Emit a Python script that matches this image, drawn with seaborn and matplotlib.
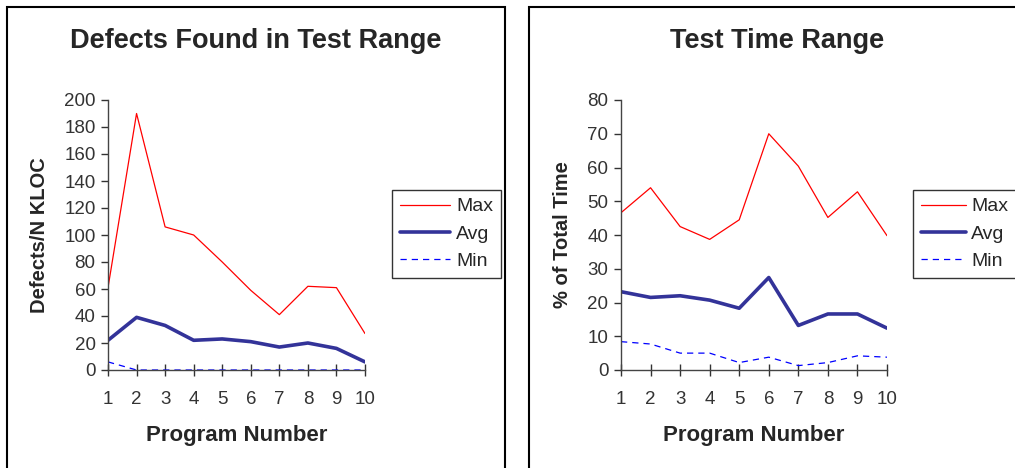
import matplotlib
matplotlib.use("Agg")
import matplotlib.pyplot as plt
from matplotlib.patches import Rectangle
import seaborn as sns

# Données
programmes = [1, 2, 3, 4, 5, 6, 7, 8, 9, 10]

defauts_max = [61, 190, 106, 100, 80, 59, 41, 62, 61, 27]
defauts_moy = [22, 39, 33, 22, 23, 21, 17, 20, 16, 6]
defauts_min = [6, 0, 0, 0, 0, 0, 0, 0, 0, 0]

temps_max = [46.6, 54, 42.5, 38.7, 44.5, 70, 60.4, 45.2, 52.8, 39.8]
temps_moy = [23.2, 21.5, 22, 20.7, 18.3, 27.4, 13.2, 16.6, 16.6, 12.4]
temps_min = [8.4, 7.7, 5, 5, 2.2, 3.8, 1.3, 2.2, 4.2, 3.8]

sns.set_style("white")
plt.rcParams['font.family'] = ['Liberation Sans', 'DejaVu Sans']

fig = plt.figure(figsize=(10.15, 4.68), dpi=100)

# Cadres des deux panneaux
fig.patches.append(Rectangle((7 / 1015, -0.1), 498 / 1015, 1.1 - 7 / 468,
                             transform=fig.transFigure, fill=False,
                             edgecolor='black', linewidth=1.5))
fig.patches.append(Rectangle((529 / 1015, -0.1), 520 / 1015, 1.1 - 7 / 468,
                             transform=fig.transFigure, fill=False,
                             edgecolor='black', linewidth=1.5))


def tracer(rect, vmax, vmin, vmoy, ymax, pas, titre, ylabel, leg_x, titre_x, long_leg):
    ax = fig.add_axes(rect)
    sns.lineplot(x=programmes, y=vmax, ax=ax, color='#FF0000', linewidth=0.9, label='Max')
    sns.lineplot(x=programmes, y=vmoy, ax=ax, color='#333399', linewidth=2.6, label='Avg')
    sns.lineplot(x=programmes, y=vmin, ax=ax, color='#0000FF', linewidth=0.9,
                 linestyle=(0, (5, 4)), label='Min')
    ax.set_xlim(1, 10)
    ax.set_ylim(0, ymax)
    ax.set_xticks(programmes)
    ax.set_yticks(range(0, ymax + 1, pas))
    for s in ['top', 'right']:
        ax.spines[s].set_visible(False)
    for s in ['left', 'bottom']:
        ax.spines[s].set_color('#444444')
        ax.spines[s].set_linewidth(1.0)
    ax.tick_params(axis='x', direction='inout', length=8, width=1, color='#333333',
                   labelsize=13.5, labelcolor='#333333', pad=11, bottom=True)
    ax.tick_params(axis='y', direction='out', length=5, width=1, color='#333333',
                   labelsize=13.5, labelcolor='#333333', pad=4, left=True)
    ax.set_xlabel('Program Number', fontsize=16, fontweight='bold', labelpad=12)
    ax.set_ylabel(ylabel, fontsize=14.5, fontweight='bold', labelpad=11)
    fig.text(titre_x, 1 - 41 / 468, titre, fontsize=19.5, fontweight='bold',
             ha='center', va='center')
    leg = ax.legend(loc='upper left', bbox_to_anchor=(leg_x, 1 - 190 / 468),
                    bbox_transform=fig.transFigure, frameon=True, fancybox=False,
                    fontsize=14, handlelength=long_leg, handletextpad=0.3,
                    borderaxespad=0, borderpad=0.4, labelspacing=0.5)
    leg.get_frame().set_edgecolor('black')
    leg.get_frame().set_linewidth(1.0)
    return ax


bas = 1 - 370 / 468
haut = 100 / 468
tracer([108 / 1015, bas, 257 / 1015, 1 - haut - bas], defauts_max, defauts_min, defauts_moy,
       200, 20, 'Defects Found in Test Range', 'Defects/N KLOC', 392 / 1015, 256 / 1015, 2.6)
tracer([621 / 1015, bas, 266 / 1015, 1 - haut - bas], temps_max, temps_min, temps_moy,
       80, 10, 'Test Time Range', '% of Total Time', 913 / 1015, 777 / 1015, 2.3)

plt.savefig('out.png', dpi=100)
plt.close()
